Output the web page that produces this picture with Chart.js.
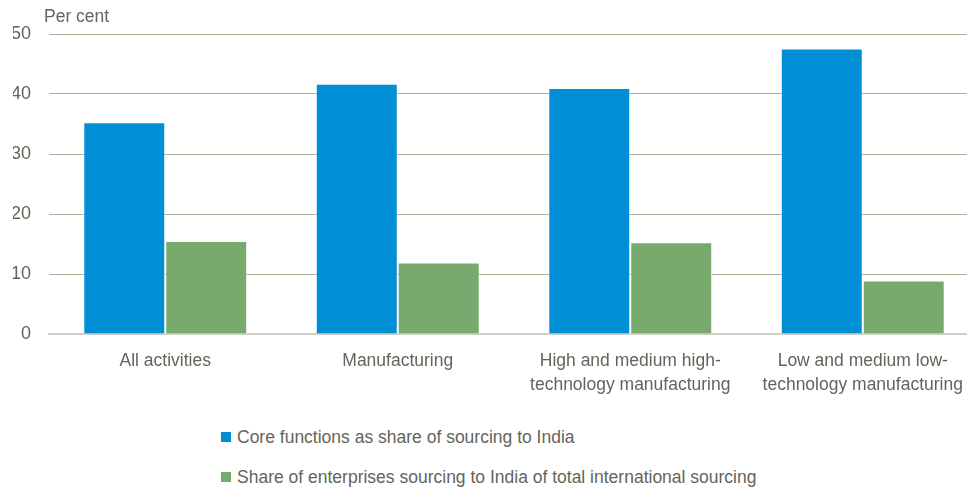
<!DOCTYPE html>
<html lang="en">
<head>
  <meta charset="UTF-8">
  <title>Sourcing to India</title>
  <script src="https://cdn.jsdelivr.net/npm/chart.js"></script>
  <style>
    html, body { margin: 0; padding: 0; background: #fff; overflow: hidden; }
    body { font-family: "Liberation Sans", Arial, sans-serif; color: #64645A; }
    #wrap { position: relative; width: 980px; height: 491px; }
    #chart-box { position: absolute; left: 0; top: 0; width: 980px; height: 400px; }
    #legend { position: absolute; left: 221px; top: 426px; font-size: 17.5px; }
    #legend div { height: 40px; line-height: 22px; white-space: nowrap; }
    #legend span.box { display: inline-block; width: 10px; height: 10px; margin-right: 6px; vertical-align: 1px; }
  </style>
</head>
<body>
  <div id="wrap">
    <div id="chart-box"><canvas id="myChart" width="980" height="400"></canvas></div>
    <div id="legend"></div>
  </div>
  <script>
    const categories = [
      'All activities',
      'Manufacturing',
      ['High and medium high-', 'technology manufacturing'],
      ['Low and medium low-', 'technology manufacturing']
    ];
    const coreFunctions = [35.3, 41.7, 41.0, 47.6];
    const shareEnterprises = [15.5, 11.9, 15.3, 8.9];
    const seriesNames = [
      'Core functions as share of sourcing to India',
      'Share of enterprises sourcing to India of total international sourcing'
    ];
    const seriesColors = ['#008FD5', '#78AA6E'];
    const yTicks = [0, 10, 20, 30, 40, 50];
    const unitLabel = 'Per cent';

    const textColor = '#64645A';
    const fontFamily = '"Liberation Sans", Arial, sans-serif';
    Chart.defaults.font.family = fontFamily;
    Chart.defaults.font.size = 17.5;
    Chart.defaults.color = textColor;

    // "Per cent" above the value axis
    const unitTitle = {
      id: 'unitTitle',
      afterDraw(chart) {
        const c = chart.ctx;
        c.save();
        c.font = '17.5px ' + fontFamily;
        c.fillStyle = textColor;
        c.textBaseline = 'middle';
        c.textAlign = 'left';
        c.fillText(unitLabel, chart.chartArea.left - 5, 17);
        c.restore();
      }
    };

    const ctx = document.getElementById('myChart').getContext('2d');
    const chart = new Chart(ctx, {
      type: 'bar',
      data: {
        labels: categories,
        datasets: [{
          label: seriesNames[0],
          data: coreFunctions,
          backgroundColor: seriesColors[0],
          borderColor: 'rgba(255,255,255,0.55)',
          borderWidth: 1,
          barPercentage: 1,
          categoryPercentage: 0.705
        }, {
          label: seriesNames[1],
          data: shareEnterprises,
          backgroundColor: seriesColors[1],
          borderColor: 'rgba(255,255,255,0.55)',
          borderWidth: 1,
          barPercentage: 1,
          categoryPercentage: 0.705
        }]
      },
      options: {
        responsive: false,
        animation: false,
        layout: { padding: { top: 34, left: 13, right: 1, bottom: 4 } },
        plugins: {
          legend: { display: false },
          tooltip: { enabled: false }
        },
        scales: {
          x: {
            grid: { display: false, drawTicks: false },
            border: { display: true, color: '#D0CFC8', width: 2 },
            ticks: {
              padding: 15,
              color: textColor,
              maxRotation: 0,
              autoSkip: false,
              font: { size: 17.5, lineHeight: 24 / 17.5 }
            },
            afterFit(axis) { axis.height = 62; }
          },
          y: {
            min: 0,
            max: 50,
            afterBuildTicks(axis) { axis.ticks = yTicks.map(v => ({ value: v })); },
            grid: {
              color: ctx => ctx.tick && ctx.tick.value === 0 ? 'rgba(0,0,0,0)' : '#B1AF9C',
              lineWidth: 1,
              drawTicks: false
            },
            border: { display: false },
            ticks: { padding: 18, color: textColor, font: { size: 18 } },
            afterFit(axis) { axis.width = 36; }
          }
        }
      },
      plugins: [unitTitle]
    });

    // legend stacked vertically under the chart
    const legend = document.getElementById('legend');
    chart.data.datasets.forEach(ds => {
      const row = document.createElement('div');
      row.innerHTML = `<span class="box" style="background:${ds.backgroundColor}"></span>${ds.label}`;
      legend.appendChild(row);
    });
  </script>
</body>
</html>
